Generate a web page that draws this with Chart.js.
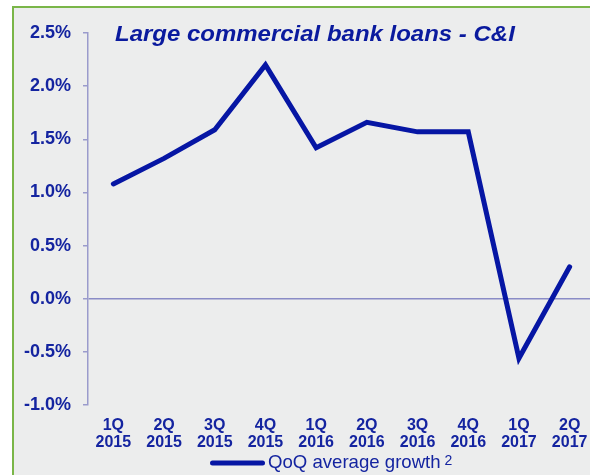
<!DOCTYPE html>
<html>
<head>
<meta charset="utf-8">
<script src="https://cdn.jsdelivr.net/npm/chart.js@4/dist/chart.umd.min.js"></script>
<style>
  html, body { margin: 0; padding: 0; background: #ffffff; overflow: hidden; }
  #frame {
    position: absolute; left: 12px; top: 6px; width: 640px; height: 520px;
    background: #eceded; border-left: 2px solid #7ab648; border-top: 2px solid #7ab648;
  }
  #loansChart { position: absolute; left: 0; top: 0; }
</style>
</head>
<body>
<div id="frame"></div>
<canvas id="loansChart" width="600" height="475"></canvas>
<script>
// ---------------------------------------------------------------------------
// Data
// ---------------------------------------------------------------------------

const QUARTERS = [
  ['1Q', '2015'], ['2Q', '2015'], ['3Q', '2015'], ['4Q', '2015'],
  ['1Q', '2016'], ['2Q', '2016'], ['3Q', '2016'], ['4Q', '2016'],
  ['1Q', '2017'], ['2Q', '2017']
];

// QoQ average growth, percent
const QOQ_GROWTH = [1.08, 1.32, 1.59, 2.20, 1.42, 1.66, 1.57, 1.57, -0.56, 0.30];

const Y_MIN = -1.0;
const Y_MAX = 2.5;
const Y_STEP = 0.5;

const TITLE = 'Large commercial bank loans - C&I';
const SERIES_LABEL = 'QoQ average growth';
const FOOTNOTE_MARK = '2';

// ---------------------------------------------------------------------------
// Styles
// ---------------------------------------------------------------------------

const LINE_BLUE = '#0616a4';
const TEXT_BLUE = '#1424a0';
const AXIS_BLUE = '#9a9bcc';
const ZERO_BLUE = '#8a8cc6';
const FONT = "'Liberation Sans', Arial, sans-serif";

// Title drawn inside the plot area, top-left
const titlePlugin = {
  id: 'innerTitle',
  afterDraw(chart) {
    const { ctx, chartArea } = chart;
    ctx.save();
    ctx.translate(chartArea.left + 27, chartArea.top + 8);
    ctx.scale(1.09, 1);
    ctx.font = `italic bold 22px ${FONT}`;
    ctx.fillStyle = '#0a1a9e';
    ctx.textBaseline = 'alphabetic';
    ctx.fillText(TITLE, 0, 0);
    ctx.restore();
  }
};

// Legend under the category labels: line sample, series name, footnote mark
const legendPlugin = {
  id: 'seriesLegend',
  afterDraw(chart) {
    const { ctx, chartArea } = chart;
    const ds = chart.data.datasets[0];
    const x0 = chartArea.left + 122;
    const y = chartArea.bottom + 58;
    ctx.save();
    ctx.strokeStyle = ds.borderColor;
    ctx.lineWidth = 5;
    ctx.lineCap = 'round';
    ctx.beginPath();
    ctx.moveTo(x0 + 2.5, y);
    ctx.lineTo(x0 + 52.5, y);
    ctx.stroke();

    ctx.fillStyle = TEXT_BLUE;
    ctx.font = `18.6px ${FONT}`;
    ctx.textBaseline = 'middle';
    ctx.fillText(ds.label, x0 + 58, y);
    const w = ctx.measureText(ds.label).width;
    ctx.font = `14px ${FONT}`;
    ctx.textBaseline = 'top';
    ctx.fillText(FOOTNOTE_MARK, x0 + 58 + w + 4, y - 9);
    ctx.restore();
  }
};

// ---------------------------------------------------------------------------
// Chart
// ---------------------------------------------------------------------------

const ctx = document.getElementById('loansChart').getContext('2d');

new Chart(ctx, {
  type: 'line',
  data: {
    labels: QUARTERS,
    datasets: [{
      label: SERIES_LABEL,
      data: QOQ_GROWTH,
      borderColor: LINE_BLUE,
      backgroundColor: LINE_BLUE,
      borderWidth: 5,
      borderCapStyle: 'round',
      borderJoinStyle: 'miter',
      pointRadius: 0,
      tension: 0
    }]
  },
  options: {
    responsive: false,
    animation: false,
    layout: { padding: { top: 33, right: 5, left: 0, bottom: 26 } },
    scales: {
      x: {
        offset: true,
        grid: { display: false, drawTicks: false },
        border: { display: false },
        afterFit: (scale) => { scale.height = 44; },
        ticks: {
          color: TEXT_BLUE,
          padding: 12,
          maxRotation: 0,
          autoSkip: false,
          font: { family: FONT, size: 16, weight: 'bold', lineHeight: 1.06 }
        }
      },
      y: {
        min: Y_MIN,
        max: Y_MAX,
        afterFit: (scale) => { scale.width = 88; },
        border: { display: true, color: AXIS_BLUE, width: 1.5 },
        grid: {
          drawTicks: true,
          tickLength: 5,
          tickColor: AXIS_BLUE,
          lineWidth: 1.5,
          color: (c) => (c.tick && c.tick.value === 0 ? ZERO_BLUE : 'transparent')
        },
        ticks: {
          stepSize: Y_STEP,
          color: TEXT_BLUE,
          padding: 12,
          font: { family: FONT, size: 18, weight: 'bold' },
          callback: (v) => Number(v).toFixed(1) + '%'
        }
      }
    },
    plugins: {
      legend: { display: false },
      tooltip: { enabled: false }
    }
  },
  plugins: [titlePlugin, legendPlugin]
});
</script>
</body>
</html>
